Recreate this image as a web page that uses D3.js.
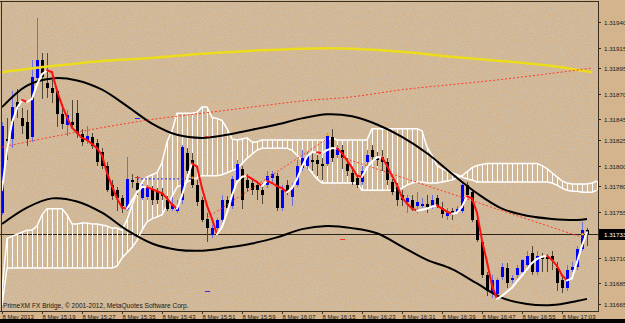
<!DOCTYPE html>
<html><head><meta charset="utf-8">
<script src="https://cdn.jsdelivr.net/npm/d3@7/dist/d3.min.js"></script>
<style>
html,body{margin:0;padding:0;background:#d2b38b;overflow:hidden;}
svg{display:block;}
text{font-family:"Liberation Sans",Arial,sans-serif;}
</style></head><body>
<svg id="c" width="625" height="323"></svg>
<script>
// ---------- DATA (EURUSD M1, 8 May 2013, 15:11 .. 17:08) ----------
const openP = [1.31754,1.31826,1.31826,1.31862,1.31846,1.31842,1.31828,1.31885,1.31903,1.31881,
1.31876,1.31873,1.31850,1.31840,1.31842,1.31851,1.31831,1.31824,1.31828,1.31822,
1.31813,1.31800,1.31781,1.31776,1.31768,1.31758,1.31786,1.31783,1.31768,1.31769,
1.31776,1.31774,1.31773,1.31766,1.31758,1.31756,1.31766,1.31812,1.31805,1.31781,
1.31766,1.31748,1.31732,1.31739,1.31747,1.31766,1.31761,1.31786,1.31797,1.31786,
1.31783,1.31781,1.31776,1.31781,1.31788,1.31790,1.31759,1.31781,1.31769,1.31781,
1.31798,1.31800,1.31805,1.31805,1.31802,1.31802,1.31828,1.31810,1.31815,1.31802,
1.31793,1.31788,1.31784,1.31803,1.31815,1.31808,1.31808,1.31803,1.31784,1.31779,
1.31771,1.31764,1.31766,1.31761,1.31761,1.31763,1.31761,1.31768,1.31759,1.31751,
1.31756,1.31755,1.31756,1.31781,1.31774,1.31747,1.31725,1.31693,1.31676,1.31675,
1.31691,1.31700,1.31688,1.31693,1.31696,1.31703,1.31715,1.31696,1.31712,1.31711,
1.31712,1.31700,1.31688,1.31681,1.31698,1.31701,1.31719,1.31737];
const highP = [1.31842,1.31846,1.31873,1.31875,1.31856,1.31854,1.31903,1.31944,1.31910,1.31910,
1.31883,1.31875,1.31856,1.31854,1.31864,1.31864,1.31836,1.31839,1.31832,1.31826,
1.31817,1.31803,1.31786,1.31779,1.31771,1.31808,1.31792,1.31790,1.31782,1.31781,
1.31780,1.31778,1.31778,1.31770,1.31769,1.31766,1.31820,1.31817,1.31812,1.31786,
1.31769,1.31754,1.31742,1.31749,1.31771,1.31770,1.31790,1.31805,1.31800,1.31792,
1.31787,1.31784,1.31783,1.31795,1.31795,1.31793,1.31781,1.31786,1.31783,1.31805,
1.31815,1.31813,1.31812,1.31810,1.31807,1.31832,1.31836,1.31820,1.31820,1.31807,
1.31797,1.31790,1.31800,1.31815,1.31820,1.31813,1.31815,1.31807,1.31787,1.31783,
1.31776,1.31771,1.31771,1.31774,1.31768,1.31771,1.31771,1.31771,1.31764,1.31759,
1.31759,1.31761,1.31783,1.31784,1.31776,1.31751,1.31727,1.31696,1.31693,1.31690,
1.31705,1.31705,1.31693,1.31703,1.31709,1.31717,1.31722,1.31717,1.31715,1.31714,
1.31717,1.31706,1.31693,1.31703,1.31706,1.31722,1.31745,1.31739];
const lowP = [1.31752,1.31805,1.31817,1.31846,1.31831,1.31819,1.31823,1.31883,1.31865,1.31866,
1.31861,1.31838,1.31836,1.31829,1.31837,1.31827,1.31819,1.31821,1.31816,1.31800,
1.31797,1.31774,1.31766,1.31756,1.31754,1.31756,1.31778,1.31771,1.31766,1.31766,
1.31762,1.31763,1.31766,1.31756,1.31756,1.31754,1.31763,1.31792,1.31778,1.31761,
1.31745,1.31725,1.31729,1.31737,1.31745,1.31754,1.31758,1.31783,1.31758,1.31774,
1.31771,1.31766,1.31763,1.31778,1.31784,1.31756,1.31756,1.31771,1.31761,1.31779,
1.31795,1.31797,1.31795,1.31790,1.31786,1.31800,1.31803,1.31807,1.31797,1.31790,
1.31781,1.31778,1.31781,1.31800,1.31803,1.31800,1.31795,1.31781,1.31771,1.31761,
1.31761,1.31754,1.31756,1.31754,1.31759,1.31754,1.31758,1.31759,1.31749,1.31747,
1.31747,1.31754,1.31754,1.31768,1.31745,1.31725,1.31690,1.31673,1.31671,1.31672,
1.31688,1.31681,1.31685,1.31690,1.31693,1.31700,1.31693,1.31693,1.31696,1.31696,
1.31698,1.31678,1.31676,1.31678,1.31696,1.31698,1.31717,1.31722];
const closeP = [1.31839,1.31824,1.31857,1.31856,1.31839,1.31826,1.31886,1.31903,1.31886,1.31876,
1.31871,1.31850,1.31841,1.31849,1.31840,1.31831,1.31823,1.31829,1.31819,1.31803,
1.31800,1.31776,1.31770,1.31768,1.31761,1.31787,1.31784,1.31776,1.31778,1.31778,
1.31766,1.31766,1.31770,1.31758,1.31763,1.31760,1.31818,1.31795,1.31781,1.31764,
1.31747,1.31739,1.31739,1.31747,1.31766,1.31759,1.31787,1.31802,1.31766,1.31778,
1.31776,1.31776,1.31771,1.31790,1.31792,1.31759,1.31776,1.31774,1.31779,1.31800,
1.31807,1.31810,1.31803,1.31802,1.31800,1.31829,1.31807,1.31817,1.31807,1.31795,
1.31784,1.31781,1.31795,1.31810,1.31808,1.31805,1.31803,1.31786,1.31774,1.31766,
1.31766,1.31768,1.31759,1.31764,1.31763,1.31760,1.31766,1.31761,1.31753,1.31754,
1.31754,1.31758,1.31781,1.31771,1.31747,1.31727,1.31693,1.31678,1.31688,1.31688,
1.31701,1.31685,1.31690,1.31700,1.31708,1.31712,1.31696,1.31712,1.31709,1.31709,
1.31708,1.31685,1.31681,1.31698,1.31701,1.31719,1.31737,1.31733];
// colour-changing fast MA (white rising, red falling)
const fastMA = [1.31776,1.31815,1.31842,1.31856,1.31864,1.31862,1.31865,1.31879,1.31889,1.31893,
1.31891,1.31873,1.31859,1.31847,1.31837,1.31832,1.31827,1.31825,1.31821,1.31817,
1.31810,1.31793,1.31780,1.31768,1.31759,1.31758,1.31766,1.31774,1.31779,1.31779,
1.31777,1.31775,1.31773,1.31768,1.31762,1.31758,1.31771,1.31787,1.31802,1.31799,
1.31778,1.31761,1.31748,1.31733,1.31740,1.31754,1.31771,1.31784,1.31789,1.31790,
1.31787,1.31784,1.31780,1.31785,1.31783,1.31780,1.31778,1.31774,1.31778,1.31787,
1.31799,1.31809,1.31813,1.31813,1.31812,1.31815,1.31817,1.31817,1.31812,1.31805,
1.31798,1.31790,1.31789,1.31798,1.31804,1.31808,1.31808,1.31800,1.31790,1.31781,
1.31769,1.31763,1.31758,1.31756,1.31757,1.31758,1.31760,1.31761,1.31758,1.31755,
1.31753,1.31754,1.31760,1.31770,1.31768,1.31754,1.31727,1.31706,1.31683,1.31670,
1.31673,1.31677,1.31681,1.31687,1.31693,1.31699,1.31705,1.31709,1.31711,1.31712,
1.31708,1.31702,1.31693,1.31688,1.31690,1.31706,1.31722,1.31735];
// cloud spans (bar 0 .. 119, projected slightly beyond last bar)
const spanA = [1.31678,1.31729,1.31731,1.31733,1.31735,1.31737,1.31737,1.31741,1.31752,1.31758,
1.31758,1.31758,1.31758,1.31752,1.31743,1.31743,1.31744,1.31744,1.31743,1.31743,
1.31742,1.31741,1.31739,1.31739,1.31737,1.31747,1.31761,1.31774,1.31784,1.31789,
1.31791,1.31793,1.31803,1.31823,1.31834,1.31851,1.31851,1.31851,1.31851,1.31852,
1.31857,1.31857,1.31847,1.31846,1.31844,1.31836,1.31826,1.31825,1.31826,1.31827,
1.31823,1.31823,1.31825,1.31825,1.31825,1.31825,1.31825,1.31825,1.31825,1.31825,
1.31825,1.31825,1.31825,1.31825,1.31825,1.31825,1.31827,1.31825,1.31825,1.31825,
1.31825,1.31825,1.31825,1.31825,1.31836,1.31836,1.31836,1.31836,1.31836,1.31836,
1.31836,1.31836,1.31836,1.31836,1.31834,1.31818,1.31810,1.31800,1.31797,1.31795,
1.31793,1.31791,1.31789,1.31787,1.31786,1.31784,1.31784,1.31784,1.31784,1.31784,
1.31784,1.31784,1.31784,1.31784,1.31784,1.31784,1.31784,1.31784,1.31784,1.31784,
1.31783,1.31781,1.31778,1.31776,1.31775,1.31775,1.31774,1.31774,1.31774,1.31776];
const spanB = [1.31664,1.31700,1.31700,1.31700,1.31700,1.31700,1.31700,1.31700,1.31700,1.31700,
1.31700,1.31700,1.31700,1.31700,1.31700,1.31700,1.31700,1.31700,1.31700,1.31700,
1.31700,1.31700,1.31700,1.31702,1.31710,1.31715,1.31720,1.31727,1.31737,1.31745,
1.31748,1.31750,1.31752,1.31761,1.31770,1.31779,1.31781,1.31784,1.31786,1.31788,
1.31790,1.31790,1.31790,1.31790,1.31791,1.31793,1.31795,1.31797,1.31802,1.31807,
1.31811,1.31815,1.31817,1.31817,1.31817,1.31817,1.31817,1.31817,1.31815,1.31810,
1.31805,1.31799,1.31793,1.31787,1.31783,1.31783,1.31783,1.31783,1.31783,1.31783,
1.31783,1.31783,1.31776,1.31776,1.31776,1.31776,1.31776,1.31776,1.31776,1.31776,
1.31778,1.31781,1.31783,1.31784,1.31784,1.31783,1.31783,1.31783,1.31784,1.31785,
1.31786,1.31788,1.31790,1.31794,1.31798,1.31800,1.31801,1.31802,1.31802,1.31802,
1.31802,1.31802,1.31802,1.31802,1.31802,1.31802,1.31802,1.31802,1.31800,1.31797,
1.31793,1.31789,1.31785,1.31783,1.31782,1.31782,1.31782,1.31782,1.31783,1.31785];
// envelope / band lines, read every 5 bars
const bandIdx   = [0,5,10,15,20,25,30,35,40,45,50,55,60,65,70,75,80,85,90,95,100,105,110,115,117];
const bandUpper = [1.31857,1.31878,1.31885,1.31883,1.31874,1.31858,1.31841,1.31830,1.31827,1.31830,1.31835,1.31840,1.31846,1.31850,1.31848,1.31840,1.31828,1.31812,1.31792,1.31773,1.31758,1.31751,1.31748,1.31747,1.31748];
const bandLower = [1.31743,1.31759,1.31768,1.31765,1.31754,1.31737,1.31724,1.31718,1.31717,1.31720,1.31724,1.31730,1.31738,1.31741,1.31739,1.31734,1.31721,1.31708,1.31699,1.31685,1.31671,1.31665,1.31664,1.31668,1.31670];
// slow moving averages, read every 10 bars
const slowIdx  = [0,10,20,30,40,50,60,70,80,90,100,110,118];
const yellowMA = [1.31891,1.31897,1.31902,1.31905,1.31909,1.31912,1.31914,1.31914,1.31911,1.31906,1.31902,1.31897,1.31891];
const redDotMA = [1.31818,1.31828,1.31837,1.31845,1.31851,1.31857,1.31863,1.31867,1.31874,1.31879,1.31884,1.31890,1.31895];
// dotted trend segments [barFrom, priceFrom, barTo, priceTo]
const redTrend  = [[41,1.31749,65,1.31826],[68,1.31808,116,1.31730]];
const blueTrend = [[27,1.31787,38,1.31787]];
const redMarks  = [[41,1.31829],[68,1.31728],[27,1.31789]];
const blueMarks = [[41,1.31678],[27,1.31846]];
const dotMarks  = [[38,1.31788],[65,1.31830],[116,1.31733]];
// axes
const priceTicks = [1.31940,1.31915,1.31895,1.31870,1.31845,1.31825,1.31800,1.31780,1.31755,1.31710,1.31685,1.31665];
const lastPrice = 1.31733;
const timeTickIdx = [0,8,16,24,32,40,48,56,64,72,80,88,96,104,112];
const timeTickLabels = ["8 May 2013","8 May 15:19","8 May 15:27","8 May 15:35","8 May 15:43","8 May 15:51","8 May 15:59","8 May 16:07","8 May 16:15","8 May 16:23","8 May 16:31","8 May 16:39","8 May 16:47","8 May 16:55","8 May 17:03"];
const copyright = "PrimeXM FX Bridge, \u00a9 2001-2012, MetaQuotes Software Corp.";

// ---------- DRAW ----------
const W = 625, H = 323, plotR = 598, plotB = 311;
const svg = d3.select("#c");
const x = d3.scaleLinear().domain([0,1]).range([2,7]);
const y = d3.scaleLinear().domain([1.31665,1.31940]).range([304,22]);

svg.append("rect").attr("width",W).attr("height",H).attr("fill","#d3b48c");
// speckle texture (deterministic turbulence)
const defs = svg.append("defs");
const f = defs.append("filter").attr("id","spk").attr("x",0).attr("y",0).attr("width","100%").attr("height","100%");
f.append("feTurbulence").attr("type","fractalNoise").attr("baseFrequency",0.9).attr("numOctaves",1).attr("seed",3).attr("result","n");
f.append("feColorMatrix").attr("in","n").attr("type","matrix")
  .attr("values","0 0 0 0 0.6  0 0 0 0 0.6  0 0 0 0 0.6  0 0 0 -9 5.2");
svg.append("rect").attr("width",plotR).attr("height",plotB).attr("filter","url(#spk)").attr("opacity",0.35);

const g = svg.append("g");
// current price line
g.append("line").attr("x1",0).attr("x2",plotR).attr("y1",Math.round(y(lastPrice))+0.5).attr("y2",Math.round(y(lastPrice))+0.5)
  .attr("stroke","#2b241a").attr("stroke-width",1);

// cloud hatch
const nCloud = spanA.length;
g.append("g").attr("shape-rendering","crispEdges").selectAll("line").data(d3.range(nCloud)).join("line")
  .attr("x1",i=>Math.round(x(i))+0.5).attr("x2",i=>Math.round(x(i))+0.5)
  .attr("y1",i=>y(spanA[i])).attr("y2",i=>y(spanB[i]))
  .attr("stroke","#ffffff").attr("stroke-width",1);
const cl = d3.line().x((d,i)=>x(i)).y(d=>y(d));
g.append("path").attr("d",cl(spanA)).attr("fill","none").attr("stroke","#fff").attr("stroke-width",1.5);
g.append("path").attr("d",cl(spanB)).attr("fill","none").attr("stroke","#fff").attr("stroke-width",1.5);

// candles
const n = openP.length;
const cg = g.append("g").attr("shape-rendering","crispEdges");
cg.selectAll("line").data(d3.range(n)).join("line")
  .attr("x1",i=>Math.round(x(i))+0.5).attr("x2",i=>Math.round(x(i))+0.5)
  .attr("y1",i=>y(highP[i])).attr("y2",i=>y(lowP[i]))
  .attr("stroke",i=>closeP[i]>=openP[i]?"#6d6de0":"#4e4636").attr("stroke-width",1);
cg.selectAll("rect").data(d3.range(n)).join("rect")
  .attr("x",i=>Math.round(x(i))-1).attr("width",3)
  .attr("y",i=>Math.min(y(openP[i]),y(closeP[i])))
  .attr("height",i=>Math.max(1,Math.abs(y(openP[i])-y(closeP[i]))))
  .attr("fill",i=>closeP[i]>=openP[i]?"#0000ff":"#000000");

// bands
const bl = d3.line().x(d=>x(d[0])).y(d=>y(d[1])).curve(d3.curveCatmullRom);
g.append("path").attr("d",bl(bandIdx.map((k,j)=>[k,bandUpper[j]]))).attr("fill","none").attr("stroke","#000").attr("stroke-width",2);
g.append("path").attr("d",bl(bandIdx.map((k,j)=>[k,bandLower[j]]))).attr("fill","none").attr("stroke","#000").attr("stroke-width",2);
// slow MAs
g.append("path").attr("d",bl(slowIdx.map((k,j)=>[k,yellowMA[j]]))).attr("fill","none").attr("stroke","#ecdc1c").attr("stroke-width",2.5);
g.append("path").attr("d",bl(slowIdx.map((k,j)=>[k,redDotMA[j]]))).attr("fill","none").attr("stroke","#ff3b2b").attr("stroke-width",1).attr("stroke-dasharray","2,2");
// trend segments
redTrend.forEach(s=>g.append("line").attr("x1",x(s[0])).attr("y1",y(s[1])).attr("x2",x(s[2])).attr("y2",y(s[3]))
  .attr("stroke","#ff3b2b").attr("stroke-width",1).attr("stroke-dasharray","2,2"));
blueTrend.forEach(s=>g.append("line").attr("x1",x(s[0])).attr("y1",y(s[1])).attr("x2",x(s[2])).attr("y2",y(s[3]))
  .attr("stroke","#2a2aff").attr("stroke-width",1).attr("stroke-dasharray","2,2"));

// fast colour MA
const mg = g.append("g");
for(let i=0;i<n-1;i++){
  mg.append("line").attr("x1",x(i)).attr("y1",y(fastMA[i])).attr("x2",x(i+1)).attr("y2",y(fastMA[i+1]))
    .attr("stroke",fastMA[i+1]<fastMA[i]?"#ff1010":"#ffffff").attr("stroke-width",2).attr("stroke-linecap","round");
}
// marks
redMarks.forEach(m=>g.append("line").attr("x1",x(m[0])-2).attr("x2",x(m[0])+3).attr("y1",Math.round(y(m[1]))+0.5).attr("y2",Math.round(y(m[1]))+0.5).attr("stroke","#ff2a2a"));
blueMarks.forEach(m=>g.append("line").attr("x1",x(m[0])-2).attr("x2",x(m[0])+3).attr("y1",Math.round(y(m[1]))+0.5).attr("y2",Math.round(y(m[1]))+0.5).attr("stroke","#2a2aff"));
dotMarks.forEach(m=>g.append("circle").attr("cx",x(m[0])+0.5).attr("cy",y(m[1])).attr("r",1.3).attr("fill","#f0a020"));

// frame & axes
const ax = svg.append("g").attr("shape-rendering","crispEdges");
ax.append("line").attr("x1",0).attr("x2",plotR).attr("y1",1.5).attr("y2",1.5).attr("stroke","#3a2e1e");
ax.append("line").attr("x1",1.5).attr("x2",1.5).attr("y1",1).attr("y2",plotB).attr("stroke","#3a2e1e");
ax.append("line").attr("x1",plotR+0.5).attr("x2",plotR+0.5).attr("y1",1).attr("y2",plotB+1).attr("stroke","#3a2e1e");
ax.append("line").attr("x1",0).attr("x2",plotR+1).attr("y1",plotB+0.5).attr("y2",plotB+0.5).attr("stroke","#3a2e1e");

priceTicks.forEach(p=>{
  const yy = Math.round(y(p))+0.5;
  ax.append("line").attr("x1",plotR).attr("x2",plotR+3).attr("y1",yy).attr("y2",yy).attr("stroke","#3a2e1e");
  svg.append("text").attr("x",plotR+6).attr("y",yy+2.2).attr("font-size",6.2).attr("fill","#1c1710").text(p.toFixed(5));
});
const ly = Math.round(y(lastPrice));
svg.append("rect").attr("x",plotR+1).attr("y",ly-5).attr("width",W-plotR).attr("height",11).attr("fill","#000");
svg.append("text").attr("x",plotR+6).attr("y",ly+2.5).attr("font-size",6.2).attr("fill","#fff").text(lastPrice.toFixed(5));

timeTickIdx.forEach((k,j)=>{
  const xx = Math.round(x(k))+0.5;
  ax.append("line").attr("x1",xx).attr("x2",xx).attr("y1",plotB).attr("y2",plotB+3).attr("stroke","#3a2e1e");
  svg.append("text").attr("x",xx).attr("y",plotB+7.5).attr("font-size",6).attr("fill","#1c1710").text(timeTickLabels[j]);
});
svg.append("text").attr("x",3).attr("y",plotB-3).attr("font-size",6.6).attr("fill","#1c1710").text(copyright);
svg.append("rect").attr("x",0).attr("y",319).attr("width",W).attr("height",4).attr("fill","#000");
</script>
</body></html>
